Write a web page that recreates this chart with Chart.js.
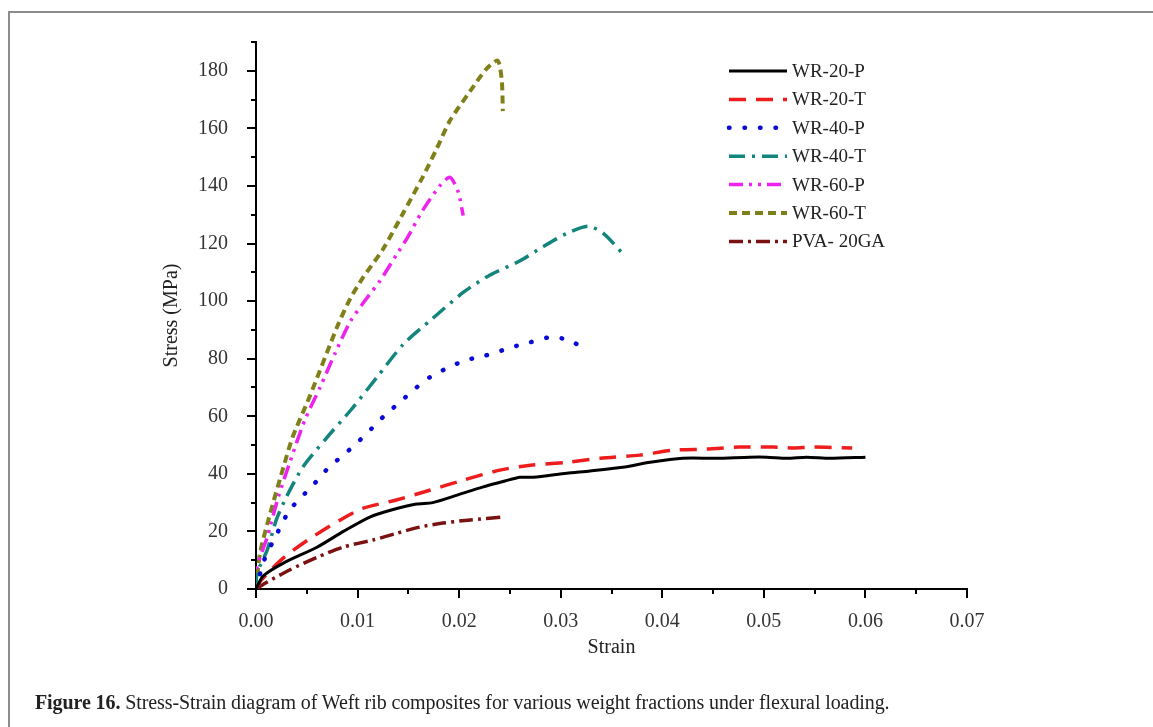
<!DOCTYPE html>
<html>
<head>
<meta charset="utf-8">
<script src="https://cdn.jsdelivr.net/npm/chart.js@4.4.0/dist/chart.umd.min.js"></script>
<style>
  html, body { margin: 0; padding: 0; background: #fff; }
  #wrap { position: relative; width: 1153px; height: 727px; overflow: hidden; }
  #frame { position: absolute; left: 8px; top: 11px; width: 1160px; height: 740px;
           border-left: 2px solid #8c8c8c; border-top: 2px solid #8c8c8c; }
  #chart { position: absolute; left: 0; top: 0; }
  #caption { position: absolute; left: 35px; top: 691px; font: 20px "Liberation Serif", serif; color: #222; white-space: nowrap; letter-spacing: -0.1px; }
  #caption b { font-weight: bold; }
</style>
</head>
<body>
<div id="wrap">
  <div id="frame"></div>
  <canvas id="chart" width="1153" height="727"></canvas>
  <div id="caption"><b>Figure 16.</b> Stress-Strain diagram of Weft rib composites for various weight fractions under flexural loading.</div>
</div>
<script>
// data (strain, stress in MPa)
const wr20pStrain = [0, 0.0007, 0.0027, 0.0060, 0.0086, 0.0112, 0.0135, 0.0158, 0.0174, 0.0198, 0.0223, 0.0245, 0.0260, 0.0273, 0.0306, 0.0329, 0.0361, 0.0388, 0.0420, 0.0454, 0.0486, 0.0503, 0.0523, 0.0542, 0.0565, 0.0600];
const wr20pStress = [0, 4.5, 9, 14.5, 20, 25, 27.6, 29.5, 30, 32.6, 35.4, 37.5, 38.8, 38.8, 40.2, 41, 42.3, 44, 45.4, 45.4, 45.8, 45.8, 45.4, 45.8, 45.4, 45.8];

const wr20tStrain = [0, 0.0005, 0.0027, 0.0051, 0.0083, 0.0105, 0.0139, 0.0171, 0.0204, 0.0240, 0.0270, 0.0306, 0.0339, 0.0378, 0.0410, 0.0444, 0.0476, 0.0509, 0.0529, 0.0548, 0.0587];
const wr20tStress = [0, 3, 10.8, 17, 24, 28, 31, 34.3, 37.8, 41.3, 43, 44, 45.4, 46.5, 48.2, 48.6, 49.3, 49.3, 49, 49.3, 49];

const wr40pStrain = [0, 0.0003, 0.0008, 0.0016, 0.0024, 0.0033, 0.0045, 0.0058, 0.0071, 0.0086, 0.0099, 0.0114, 0.0127, 0.0142, 0.0157, 0.0171, 0.0188, 0.0206, 0.0225, 0.0233, 0.0252, 0.0270, 0.0289, 0.0309, 0.0324];
const wr40pStress = [0, 4, 10, 16, 21.5, 27.4, 32, 36.8, 42, 46.5, 50.6, 55.8, 60.4, 65, 69.7, 73.5, 76.7, 79.4, 81, 81.8, 84, 85.7, 87.4, 86.4, 83];

const wr40tStrain = [0, 0.0001, 0.0011, 0.0020, 0.0030, 0.0046, 0.0070, 0.0093, 0.0119, 0.0145, 0.0174, 0.0204, 0.0230, 0.0260, 0.0283, 0.0306, 0.0327, 0.0342, 0.0361];
const wr40tStress = [0, 5.5, 13.5, 24, 32, 42.3, 52.7, 62, 73.5, 85, 94, 103, 109, 114, 119, 123.5, 126, 123.5, 116.5];

const wr60pStrain = [0, 0.0001, 0.0011, 0.0022, 0.0033, 0.0048, 0.0063, 0.0078, 0.0093, 0.0109, 0.0122, 0.0139, 0.0149, 0.0164, 0.0181, 0.0191, 0.0199, 0.0204];
const wr60pStress = [0, 7.6, 18, 32, 43.7, 58.6, 70, 82, 93, 101, 107, 116.5, 122, 131.5, 140, 143, 138, 129.7];

const wr60tStrain = [0, 0.0004, 0.0014, 0.0027, 0.0036, 0.0053, 0.0081, 0.0093, 0.0105, 0.0125, 0.0144, 0.0164, 0.0178, 0.0191, 0.0211, 0.0227, 0.0238, 0.0242, 0.0243];
const wr60tStress = [0, 12.5, 26.3, 42.3, 52.7, 67, 92, 101, 108, 118, 130, 143, 153, 162.7, 173, 180.7, 183.5, 176.5, 166];

const pvaStrain = [0, 0.0011, 0.0033, 0.0060, 0.0086, 0.0115, 0.0139, 0.0161, 0.0184, 0.0211, 0.0243];
const pvaStress = [0, 2.4, 6.6, 11, 14.6, 17, 19.4, 21.5, 22.9, 24, 25];

const seriesLabels = ["WR-20-P", "WR-20-T", "WR-40-P", "WR-40-T", "WR-60-P", "WR-60-T", "PVA- 20GA"];
const xTickValues = [0, 0.01, 0.02, 0.03, 0.04, 0.05, 0.06, 0.07];
const yTickValues = [0, 20, 40, 60, 80, 100, 120, 140, 160, 180];

const pts = (xs, ys) => xs.map((x, i) => ({ x, y: ys[i] }));

const styles = [
  { color: "#000000", dash: [], width: 3, cap: "butt" },
  { color: "#ee1c1c", dash: [17, 10], width: 3.5, cap: "butt" },
  { color: "#0a0ad8", dash: [0.5, 15], width: 4.5, cap: "round" },
  { color: "#13857c", dash: [16, 7, 3, 7], width: 3.5, cap: "butt" },
  { color: "#ee22ee", dash: [14, 6, 3, 6, 3, 6], width: 3.5, cap: "butt" },
  { color: "#80801a", dash: [8, 5], width: 4, cap: "butt" },
  { color: "#7a1212", dash: [14, 5, 3, 5], width: 3.5, cap: "butt" }
];
const allData = [
  pts(wr20pStrain, wr20pStress),
  pts(wr20tStrain, wr20tStress),
  pts(wr40pStrain, wr40pStress),
  pts(wr40tStrain, wr40tStress),
  pts(wr60pStrain, wr60pStress),
  pts(wr60tStrain, wr60tStress),
  pts(pvaStrain, pvaStress)
];

const datasets = seriesLabels.map((label, i) => ({
  label,
  data: allData[i],
  borderColor: styles[i].color,
  backgroundColor: styles[i].color,
  borderDash: styles[i].dash,
  borderWidth: styles[i].width,
  borderCapStyle: styles[i].cap,
  borderJoinStyle: "round",
  showLine: true,
  pointRadius: 0,
  tension: 0.25,
  fill: false
}));

// major/minor tick marks, drawn outward from the axis lines
const tickMarks = {
  id: "tickMarks",
  afterDraw(chart) {
    const { ctx, scales: { x, y } } = chart;
    ctx.save();
    ctx.strokeStyle = "#000";
    ctx.lineWidth = 2;
    ctx.beginPath();
    for (let v = 0; v <= 190; v += 10) {
      const py = Math.round(y.getPixelForValue(v));
      const len = v % 20 === 0 ? 9 : 5;
      ctx.moveTo(x.left, py);
      ctx.lineTo(x.left - len, py);
    }
    for (let k = 0; k <= 14; k++) {
      const px = Math.round(x.getPixelForValue(k * 0.005));
      const len = k % 2 === 0 ? 9 : 5;
      ctx.moveTo(px, y.bottom);
      ctx.lineTo(px, y.bottom + len);
    }
    ctx.stroke();
    ctx.restore();
  }
};

// legend inside the plot, top right
const innerLegend = {
  id: "innerLegend",
  afterDraw(chart) {
    const ctx = chart.ctx;
    ctx.save();
    ctx.font = '19px "Liberation Serif", serif';
    ctx.textBaseline = "middle";
    ctx.fillStyle = "#222";
    chart.data.datasets.forEach((ds, i) => {
      const yy = 71 + i * 28.4;
      ctx.beginPath();
      ctx.strokeStyle = ds.borderColor;
      ctx.lineWidth = ds.borderWidth;
      ctx.lineCap = ds.borderCapStyle;
      ctx.setLineDash(ds.borderDash);
      ctx.moveTo(729, yy);
      ctx.lineTo(787, yy);
      ctx.stroke();
      ctx.setLineDash([]);
      ctx.fillText(ds.label, 792, yy + 1);
    });
    ctx.restore();
  }
};

const tickFont = { family: '"Liberation Serif", serif', size: 20 };

new Chart(document.getElementById("chart"), {
  type: "scatter",
  data: { datasets },
  options: {
    responsive: false,
    animation: false,
    layout: { padding: { left: 160, right: 186, top: 42, bottom: 67 } },
    plugins: { legend: { display: false }, tooltip: { enabled: false } },
    scales: {
      x: {
        type: "linear",
        min: 0,
        max: 0.07,
        afterFit: s => { s.height = 71; },
        afterBuildTicks: s => { s.ticks = xTickValues.map(value => ({ value })); },
        grid: { display: false },
        border: { display: true, width: 2, color: "#000" },
        ticks: { color: "#333", font: tickFont, padding: 13, maxRotation: 0, callback: v => v.toFixed(2) },
        title: { display: true, text: "Strain", color: "#222", font: tickFont, padding: 0 }
      },
      y: {
        type: "linear",
        min: 0,
        max: 190,
        afterFit: s => { s.width = 96; },
        afterBuildTicks: s => { s.ticks = yTickValues.map(value => ({ value })); },
        grid: { display: false },
        border: { display: true, width: 2, color: "#000" },
        ticks: { color: "#333", font: tickFont, padding: 20 },
        title: { display: true, text: "Stress (MPa)", color: "#222", font: tickFont, padding: 0 }
      }
    }
  },
  plugins: [tickMarks, innerLegend]
});
</script>
</body>
</html>
